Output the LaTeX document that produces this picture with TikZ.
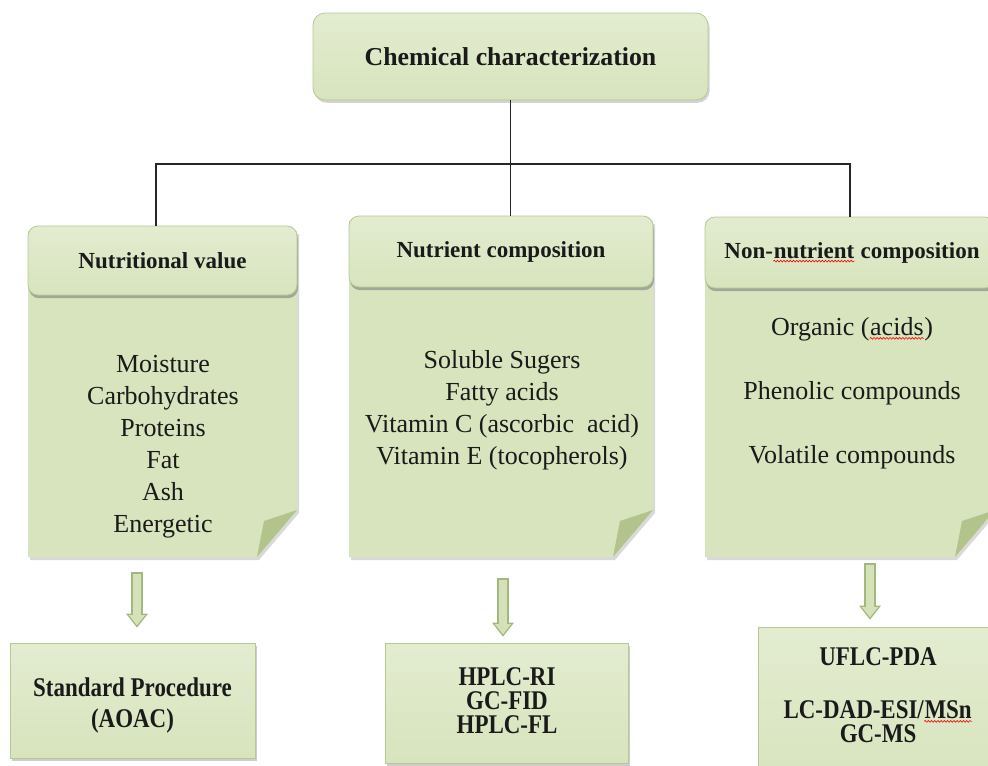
\documentclass[tikz,border=0pt]{standalone}
\usepackage{fontspec}
\setmainfont{Liberation Serif}
\newfontfamily\condfont[FakeStretch=0.85]{Liberation Serif}
\usetikzlibrary{positioning,calc,shadows,arrows.meta,decorations.pathmorphing}

\definecolor{leaf}{HTML}{D7E4BD}
\definecolor{leaflight}{HTML}{E3ECD0}
\definecolor{leafrim}{HTML}{B6C994}
\definecolor{flap}{HTML}{B2C48C}
\definecolor{arrowrim}{HTML}{A3B87E}
\definecolor{arrowfill}{HTML}{D5E2B8}
\definecolor{inkdark}{HTML}{1A1A1A}

% red spell-check wave
\newcommand\spellwave[1]{\tikz[baseline=(w.base)]{\node[inner sep=0pt] (w) {#1};
  \draw[red,line width=0.3pt,decorate,decoration={snake,amplitude=0.45pt,segment length=1.6pt}]
    ([yshift=-1.2pt]w.south west) -- ([yshift=-1.2pt]w.south east);}}

% note sheet with folded corner
\newcommand{\foldsheet}[4]{%
  \fill[leaf,drop shadow={opacity=0.3,shadow xshift=1pt,shadow yshift=-1.5pt}]
    (#1,#2) -- (#3,#2) -- (#3,{#4-47}) -- ({#3-40},#4) -- (#1,#4) -- cycle;
  \fill[flap] (#3,{#4-47}) -- ({#3-33},{#4-36}) -- ({#3-40},#4) -- cycle;}

\begin{document}
\begin{tikzpicture}
  [x=0.5pt,y=-0.5pt,
   every node/.style={align=center,inner sep=0pt,text=inkdark},
   topbox/.style={draw=leafrim,rounded corners=6pt,top color=leaflight,bottom color=leaf,
     drop shadow={opacity=0.35,shadow xshift=0.8pt,shadow yshift=-1.4pt},
     minimum width=197.5pt,minimum height=43.5pt,font=\bfseries\fontsize{12.9}{15}\selectfont},
   headbox/.style={draw=leafrim,rounded corners=5pt,top color=leaflight,bottom color=leaf,
     drop shadow={opacity=0.6,shadow xshift=0.5pt,shadow yshift=-1.6pt}},
   headtext/.style={font=\bfseries\fontsize{11.5}{14}\selectfont},
   sheettext/.style={font=\fontsize{13}{16}\selectfont},
   methodbox/.style={draw=leafrim,top color=leaflight,bottom color=leaf,
     drop shadow={opacity=0.4,shadow xshift=1pt,shadow yshift=-1.5pt}},
   methodtext/.style={font=\condfont\bfseries\fontsize{13.5}{12}\selectfont},
   treeline/.style={draw=black!85,line width=0.6pt},
   bigarrow/.style={line width=6pt,draw=arrowrim,
     -{Triangle[length=7pt,width=11pt,line width=0pt]},
     postaction={draw=arrowfill,line width=4pt,shorten <=0.8pt,shorten >=1.2pt,
       -{Triangle[length=5pt,width=8pt,line width=0pt]}}}]
  \useasboundingbox (0,0) rectangle (988,765);
  \clip (0,0) rectangle (988,765);

  % sheets
  \foldsheet{28}{231}{297}{557}
  \foldsheet{349}{221}{653}{557}
  \foldsheet{705}{222}{995}{557}

  % top and headers
  \node[topbox] (chem) at (510.5,56.5) {Chemical characterization};
  \node[headbox,minimum width=134.5pt,minimum height=34.5pt] (nv) at (162.5,260.5) {};
  \node[headbox,minimum width=152pt,minimum height=35.5pt] (nc) at (501,251.5) {};
  \node[headbox,minimum width=145pt,minimum height=35.5pt] (nn) at (850,252.5) {};
  \node[headtext] (nvtext) at (nv.center) {Nutritional value};
  \node[headtext] (nctext) at (nc.center) {Nutrient composition};
  \node[headtext] (nntext) at (852,252.5) {Non-\spellwave{nutrient} composition};

  \coordinate (split) at (511,164);
  \draw[treeline] (chem.south) -- (chem.south |- nc.north);
  \draw[treeline] (split) -| ([xshift=-3.25pt]nv.north);
  \draw[treeline] (split) -| (nn.north);

  % sheet contents
  \node[sheettext] (nvlist) at (163,447) {Moisture\\Carbohydrates\\Proteins\\Fat\\Ash\\Energetic};
  \node[sheettext] (nclist) at (502,410.5) {Soluble Sugers\\Fatty acids\\Vitamin C (ascorbic~ acid)\\Vitamin E (tocopherols)};
  \node[sheettext] (nnlist) at (852,393) {Organic (\spellwave{acids})\\[16pt]Phenolic compounds\\[16pt]Volatile compounds};

  % methods
  \node[methodbox,minimum width=122.5pt,minimum height=57.5pt] (sp) at (132.5,700.5) {};
  \node[methodtext] (sptext) at (132.5,705) {Standard Procedure\\[3.5pt](AOAC)};
  \node[methodbox,minimum width=121.5pt,minimum height=60pt] (hplc) at (506.5,703) {};
  \node[methodtext] (hplctext) at (507,701) {HPLC-RI\\GC-FID\\HPLC-FL};
  \node[methodbox,minimum width=120pt,minimum height=81.5pt] (uflc) at (878,708.5) {};
  \node[methodtext] (uflctext) at (878,695) {UFLC-PDA\\[14.5pt]LC-DAD-ESI/\spellwave{MSn}\\GC-MS};

  % arrows
  \coordinate (nvbot) at (137,557);
  \coordinate (ncbot) at (503,557);
  \coordinate (nnbot) at (870,557);
  \draw[bigarrow] ($(nvbot)+(0,15)$) -- ($(nvbot |- sp.north)+(0,-15)$);
  \draw[bigarrow] ($(ncbot)+(0,21)$) -- ($(ncbot |- hplc.north)+(0,-6)$);
  \draw[bigarrow] ($(nnbot)+(0,6)$) -- ($(nnbot |- uflc.north)+(0,-7)$);
\end{tikzpicture}
\end{document}
